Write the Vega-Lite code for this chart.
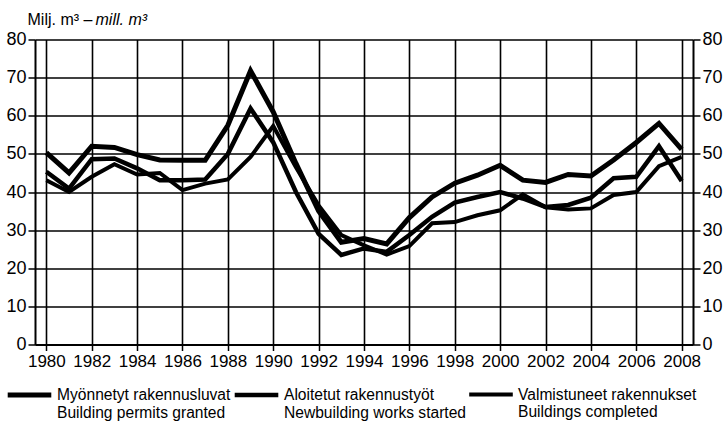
{
  "$schema": "https://vega.github.io/schema/vega-lite/v6.json",
  "width": 658,
  "height": 305,
  "autosize": {"type": "none"},
  "padding": {"left": 35, "top": 39.5, "right": 34, "bottom": 88.5},
  "background": "white",
  "config": {
    "font": "Liberation Sans",
    "view": {"stroke": null},
    "axis": {
      "labelFont": "Liberation Sans",
      "titleFont": "Liberation Sans",
      "labelColor": "black",
      "titleColor": "black",
      "domainColor": "black",
      "tickColor": "black",
      "gridColor": "black",
      "gridOpacity": 1
    },
    "legend": {"labelFont": "Liberation Sans"}
  },
  "data": {
    "values": [
      {"year": 1980, "permits": 50.3, "starts": 45.3, "completions": 43.1},
      {"year": 1981, "permits": 45.0, "starts": 40.9, "completions": 40.0},
      {"year": 1982, "permits": 52.0, "starts": 48.6, "completions": 44.0},
      {"year": 1983, "permits": 51.7, "starts": 48.8, "completions": 47.3},
      {"year": 1984, "permits": 49.8, "starts": 46.2, "completions": 44.6},
      {"year": 1985, "permits": 48.4, "starts": 43.1, "completions": 45.0},
      {"year": 1986, "permits": 48.3, "starts": 43.1, "completions": 40.5},
      {"year": 1987, "permits": 48.3, "starts": 43.3, "completions": 42.2},
      {"year": 1988, "permits": 57.5, "starts": 50.0, "completions": 43.3},
      {"year": 1989, "permits": 71.8, "starts": 61.9, "completions": 49.2},
      {"year": 1990, "permits": 61.0, "starts": 53.0, "completions": 57.3},
      {"year": 1991, "permits": 47.5, "starts": 40.0, "completions": 46.5},
      {"year": 1992, "permits": 35.0, "starts": 29.0, "completions": 36.5},
      {"year": 1993, "permits": 26.8, "starts": 23.5, "completions": 28.7},
      {"year": 1994, "permits": 27.8, "starts": 25.2, "completions": 26.0},
      {"year": 1995, "permits": 26.4, "starts": 24.3, "completions": 23.6},
      {"year": 1996, "permits": 33.3, "starts": 28.7, "completions": 25.8},
      {"year": 1997, "permits": 38.7, "starts": 33.5, "completions": 31.8},
      {"year": 1998, "permits": 42.3, "starts": 37.2, "completions": 32.1},
      {"year": 1999, "permits": 44.4, "starts": 38.7, "completions": 33.9},
      {"year": 2000, "permits": 47.0, "starts": 40.0, "completions": 35.2},
      {"year": 2001, "permits": 43.1, "starts": 38.3, "completions": 39.4},
      {"year": 2002, "permits": 42.5, "starts": 36.1, "completions": 36.0},
      {"year": 2003, "permits": 44.6, "starts": 36.6, "completions": 35.4},
      {"year": 2004, "permits": 44.2, "starts": 38.5, "completions": 35.7},
      {"year": 2005, "permits": 48.4, "starts": 43.6, "completions": 39.2},
      {"year": 2006, "permits": 53.0, "starts": 44.0, "completions": 40.0},
      {"year": 2007, "permits": 58.0, "starts": 52.0, "completions": 46.8},
      {"year": 2008, "permits": 51.2, "starts": 42.9, "completions": 49.2}
    ]
  },
  "transform": [{"fold": ["permits", "starts", "completions"], "as": ["series", "value"]}],
  "layer": [
    {
      "mark": {"type": "line", "color": "black", "strokeJoin": "miter"},
      "encoding": {
        "x": {
          "field": "year",
          "type": "ordinal",
          "scale": {"paddingInner": 0, "paddingOuter": 0},
          "axis": {
            "values": [1980, 1982, 1984, 1986, 1988, 1990, 1992, 1994, 1996, 1998, 2000, 2002, 2004, 2006, 2008],
            "bandPosition": 0,
            "grid": true,
            "gridWidth": 1.6,
            "labelAngle": 0,
            "labelFontSize": 17,
            "labelPadding": 3,
            "tickSize": 6,
            "tickWidth": 1.5,
            "domainWidth": 2,
            "title": null
          }
        },
        "y": {
          "field": "value",
          "type": "quantitative",
          "scale": {"domain": [0, 80], "nice": false},
          "axis": {
            "values": [0, 10, 20, 30, 40, 50, 60, 70, 80],
            "grid": true,
            "gridWidth": 1.6,
            "labelFontSize": 18,
            "labelPadding": 2,
            "tickSize": 7,
            "tickWidth": 1.5,
            "domainWidth": 2,
            "title": "Milj. m³ –",
            "titleAngle": 0,
            "titleAlign": "left",
            "titleBaseline": "alphabetic",
            "titleX": -8,
            "titleY": -15,
            "titleFontSize": 16,
            "titleFontWeight": "normal"
          }
        },
        "strokeWidth": {
          "field": "series",
          "type": "nominal",
          "scale": {"domain": ["permits", "starts", "completions"], "range": [5, 4, 2.6]},
          "legend": {
            "orient": "none",
            "legendX": -30,
            "legendY": 331,
            "direction": "horizontal",
            "gridAlign": "none",
            "title": null,
            "symbolType": "stroke",
            "symbolSize": 1900,
            "symbolStrokeColor": "black",
            "labelFontSize": 15.6,
            "labelColor": "black",
            "labelLimit": 400,
            "labelOffset": 3,
            "columnPadding": -6,
            "labelExpr": "datum.label == 'permits' ? ['Myönnetyt rakennusluvat', 'Building permits granted'] : datum.label == 'starts' ? ['Aloitetut rakennustyöt', 'Newbuilding works started'] : ['Valmistuneet rakennukset', 'Buildings completed']"
          }
        }
      }
    },
    {
      "mark": {"type": "line", "opacity": 0},
      "encoding": {
        "x": {"field": "year", "type": "ordinal"},
        "y": {
          "field": "value",
          "type": "quantitative",
          "axis": {
            "orient": "right",
            "values": [0, 10, 20, 30, 40, 50, 60, 70, 80],
            "grid": false,
            "labelFontSize": 18,
            "labelPadding": 2,
            "tickSize": 7,
            "tickWidth": 1.5,
            "domainWidth": 2,
            "title": "mill. m³",
            "titleFontStyle": "italic",
            "titleAngle": 0,
            "titleAlign": "left",
            "titleBaseline": "alphabetic",
            "titleX": -598,
            "titleY": -15,
            "titleFontSize": 16,
            "titleFontWeight": "normal"
          }
        },
        "detail": {"field": "series", "type": "nominal"}
      }
    }
  ],
  "resolve": {"axis": {"y": "independent"}}
}
